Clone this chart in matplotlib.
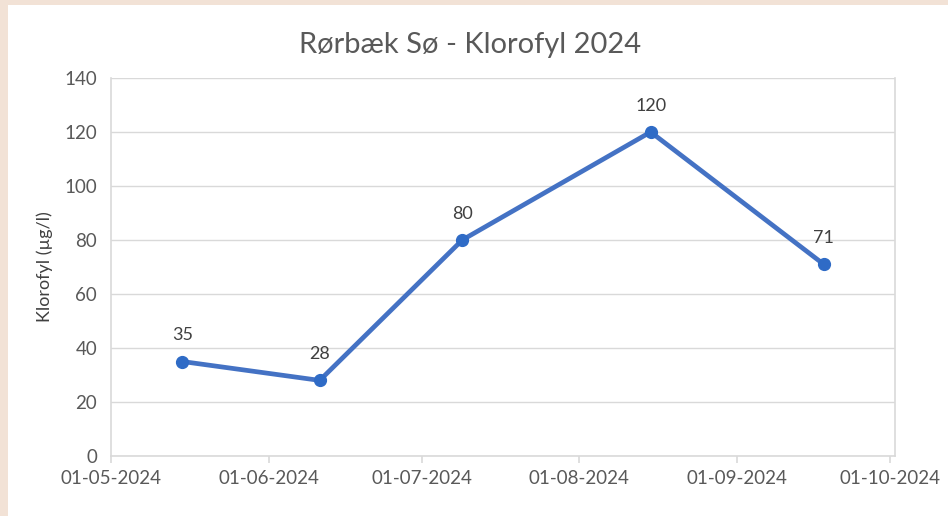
import numpy as np
import matplotlib.pyplot as plt
import matplotlib.dates as mdates
from matplotlib.patches import Rectangle

plt.rcParams['font.family'] = ['Lato', 'DejaVu Sans']

# data
dates = np.array(['2024-05-15', '2024-06-11', '2024-07-09', '2024-08-15', '2024-09-18'], dtype='datetime64[D]')
klorofyl = [35, 28, 80, 120, 71]
ticks = np.array(['2024-05-01', '2024-06-01', '2024-07-01', '2024-08-01', '2024-09-01', '2024-10-01'], dtype='datetime64[D]')

fig = plt.figure(figsize=(9.48, 5.16), dpi=100)
fig.patch.set_facecolor('#F2E2D6')
fig.patches.append(Rectangle((8 / 948, 0), 1, 1 - 5 / 516, transform=fig.transFigure,
                             facecolor='white', edgecolor='none', zorder=-1))

ax = fig.add_axes([111 / 948, 1 - 456 / 516, (895 - 111) / 948, (456 - 78) / 516])
ax.set_zorder(2)
ax.set_facecolor('white')

blue = '#4472C4'
ax.plot(dates, klorofyl, color=blue, lw=3.4, marker='o', ms=8.5,
        markerfacecolor='#2F6BC6', markeredgecolor='#2F6BC6', zorder=3,
        solid_capstyle='round', solid_joinstyle='round')

for d, v in zip(dates, klorofyl):
    ax.annotate(str(v), (d, v), xytext=(0, 13), textcoords='offset points',
                ha='center', va='bottom', fontsize=13, color='#404040')

ax.set_ylim(0, 140)
ax.set_yticks(range(0, 141, 20))
ax.set_xlim(ticks[0], ticks[-1] + np.timedelta64(1, 'D'))
ax.set_xticks(ticks)
ax.xaxis.set_major_formatter(mdates.DateFormatter('%d-%m-%Y'))

ax.grid(axis='y', color='#D9D9D9', lw=1)
ax.set_axisbelow(True)
for s in ax.spines.values():
    s.set_color('#D9D9D9')
    s.set_linewidth(1.2)
ax.spines['top'].set_visible(False)

ax.tick_params(axis='y', length=0, pad=10, labelsize=13.5, labelcolor='#595959')
ax.tick_params(axis='x', length=5, color='#D9D9D9', width=1.2, pad=5,
               labelsize=13.5, labelcolor='#595959')

ax.set_ylabel('Klorofyl (µg/l)', fontsize=13, color='#404040', labelpad=8)
fig.text(470 / 948, 1 - 45 / 516, 'Rørbæk Sø - Klorofyl 2024', ha='center', va='center',
         fontsize=21, color='#595959')

fig.savefig('out.png', dpi=100, facecolor=fig.get_facecolor())
